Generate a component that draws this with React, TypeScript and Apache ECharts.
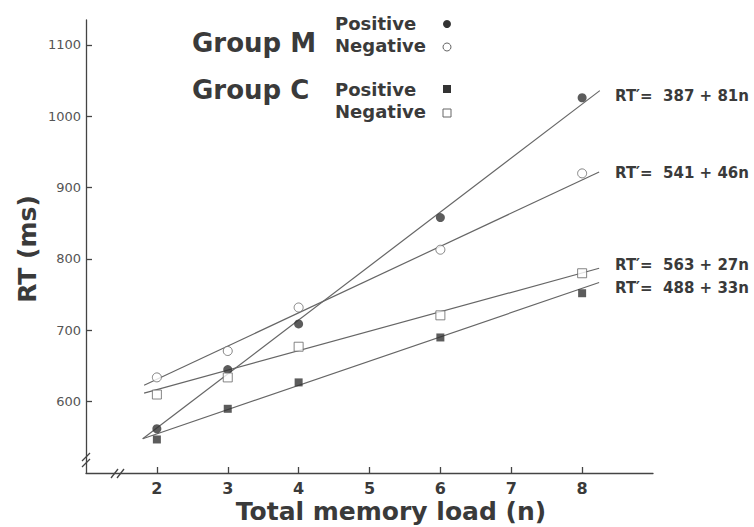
import React, { useEffect, useRef } from "react";
import * as echarts from "echarts";

const loads = [2, 3, 4, 6, 8];
const mPositive = [562, 645, 709, 858, 1026];
const mNegative = [634, 671, 732, 813, 920];
const cPositive = [547, 590, 627, 690, 752];
const cNegative = [610, 634, 677, 721, 780];

// fitted line end points [n, RT]
const mPositiveFit = [[1.8, 548], [8.25, 1036]];
const mNegativeFit = [[1.82, 623], [8.24, 922]];
const cNegativeFit = [[1.82, 612], [8.24, 787]];
const cPositiveFit = [[1.8, 548], [8.24, 767]];

const xTicks = [2, 3, 4, 5, 6, 7, 8];
const yTicks = [600, 700, 800, 900, 1000, 1100];

const equations = ["RT\u2032=  387 + 81n", "RT\u2032=  541 + 46n", "RT\u2032=  563 + 27n", "RT\u2032=  488 + 33n"];

const FONT = "DejaVu Sans";
const INK = "#3a3a3a";
const LINE = "#666";

export default function App() {
  const ref = useRef<HTMLDivElement>(null);
  useEffect(() => {
    const chart = echarts.init(ref.current!, null, { renderer: "svg" });
    const pts = (v: number[]) => loads.map((n, i) => [n, v[i]]);
    const fit = (d: number[][]) => ({
      type: "line",
      data: d,
      symbol: "none",
      lineStyle: { color: LINE, width: 1.2 },
      z: 1,
    });
    const txt = (text: string, x: number, y: number, size: number) => ({
      type: "text",
      x,
      y,
      style: { text, fill: INK, font: `bold ${size}px "${FONT}"`, textVerticalAlign: "middle" },
    });
    const slash = (x1: number, y1: number, x2: number, y2: number) => ({
      type: "line",
      shape: { x1, y1, x2, y2 },
      style: { stroke: "#444", lineWidth: 1.3 },
    });
    chart.setOption({
      animation: false,
      backgroundColor: "#fff",
      grid: { left: 86, top: 20, width: 567, height: 453 },
      xAxis: {
        type: "value",
        min: 1,
        max: 9,
        splitLine: { show: false },
        axisLine: { lineStyle: { color: "#444", width: 1.3 } },
        axisTick: { inside: true, length: 6, customValues: xTicks, lineStyle: { color: "#444", width: 1.3 } },
        axisLabel: { customValues: xTicks, margin: 7, color: INK, fontFamily: FONT, fontWeight: "bold", fontSize: 16 },
      },
      yAxis: {
        type: "value",
        min: 500,
        max: 1135,
        splitLine: { show: false },
        axisLine: { show: true, lineStyle: { color: "#444", width: 1.3 } },
        axisTick: { show: true, inside: true, length: 6, customValues: yTicks, lineStyle: { color: "#444", width: 1.3 } },
        axisLabel: {
          customValues: yTicks,
          formatter: (v: number) => String(v),
          margin: 5,
          color: "#555",
          fontFamily: FONT,
          fontSize: 13,
        },
      },
      series: [
        fit(mPositiveFit),
        fit(mNegativeFit),
        fit(cNegativeFit),
        fit(cPositiveFit),
        { type: "scatter", data: pts(mPositive), symbol: "circle", symbolSize: 9, itemStyle: { color: "#333" }, z: 3 },
        { type: "scatter", data: pts(mNegative), symbol: "circle", symbolSize: 9, itemStyle: { color: "#fff", borderColor: LINE, borderWidth: 1 }, z: 3 },
        { type: "scatter", data: pts(cPositive), symbol: "rect", symbolSize: 8, itemStyle: { color: "#333" }, z: 3 },
        { type: "scatter", data: pts(cNegative), symbol: "rect", symbolSize: 9, itemStyle: { color: "#fff", borderColor: LINE, borderWidth: 1 }, z: 3 },
      ],
      graphic: [
        txt("Group M", 192, 43, 26),
        txt("Group C", 192, 90, 26),
        txt("Positive", 335, 23, 18),
        txt("Negative", 335, 45, 18),
        txt("Positive", 335, 89, 18),
        txt("Negative", 335, 111, 18),
        { type: "circle", shape: { cx: 447, cy: 24, r: 4 }, style: { fill: "#333" } },
        { type: "circle", shape: { cx: 447, cy: 47, r: 4 }, style: { fill: "#fff", stroke: LINE, lineWidth: 1 } },
        { type: "rect", shape: { x: 443, y: 85, width: 8, height: 8 }, style: { fill: "#333" } },
        { type: "rect", shape: { x: 443, y: 109, width: 8, height: 8 }, style: { fill: "#fff", stroke: LINE, lineWidth: 1 } },
        txt(equations[0], 615, 96, 15),
        txt(equations[1], 615, 173, 15),
        txt(equations[2], 615, 265, 15),
        txt(equations[3], 615, 288, 15),
        {
          type: "text",
          x: 27,
          y: 249,
          rotation: Math.PI / 2,
          style: { text: "RT (ms)", fill: INK, font: `bold 25px "${FONT}"`, textAlign: "center", textVerticalAlign: "middle" },
        },
        {
          type: "text",
          x: 391,
          y: 511,
          style: { text: "Total memory load (n)", fill: INK, font: `bold 25px "${FONT}"`, textAlign: "center", textVerticalAlign: "middle" },
        },
        slash(111, 478, 118, 469),
        slash(117, 478, 124, 469),
        slash(82, 461, 90, 453),
        slash(82, 467, 90, 459),
      ],
    });
    return () => chart.dispose();
  }, []);
  return <div ref={ref} style={{ position: "fixed", left: 0, top: 0, width: 754, height: 527 }} />;
}
